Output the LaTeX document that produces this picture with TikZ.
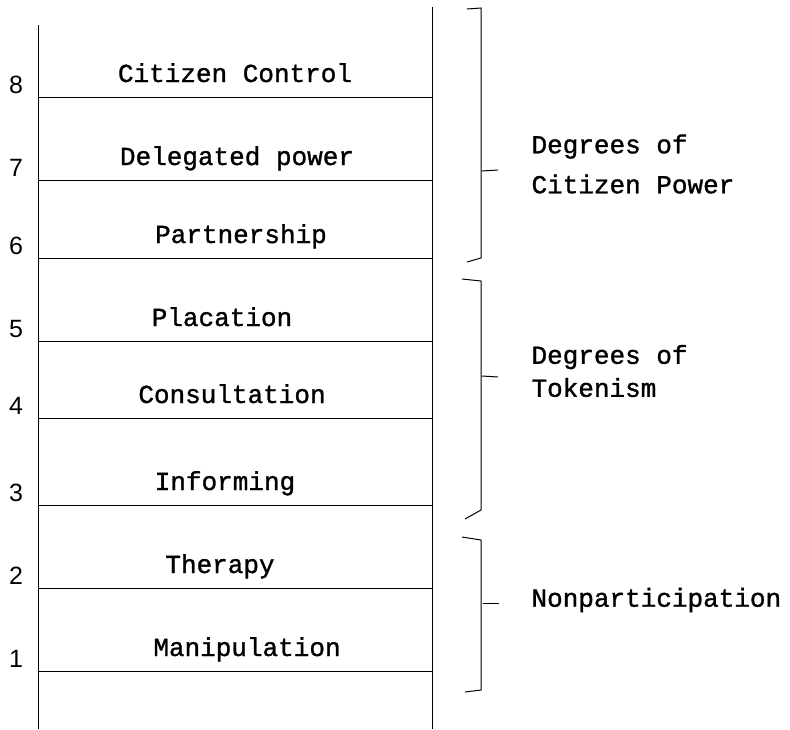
\documentclass[tikz,border=0pt]{standalone}
\usepackage{fontspec}
\setmonofont{Liberation Mono}[FakeBold=1.2]
\setsansfont{Liberation Sans}
\usetikzlibrary{positioning}

\begin{document}
\begin{tikzpicture}[
    x=1pt, y=-1pt,
    rail/.style={line width=1pt},
    rung/.style={line width=1pt},
    brack/.style={line width=1pt},
    rungnum/.style={font=\sffamily\fontsize{25}{25}\selectfont, anchor=center},
    rungtxt/.style={font=\ttfamily\fontsize{26}{30}\selectfont, anchor=base},
    grptxt/.style={font=\ttfamily\fontsize{26}{40}\selectfont, anchor=west, align=left}
  ]
  \useasboundingbox (0,0) rectangle (790,729);
  % Rails
  \coordinate (ltop) at (38,25);
  \coordinate (lbot) at (38,729);
  \coordinate (rtop) at (432,7);
  \coordinate (rbot) at (432,729);
  \draw[rail] (ltop) -- (lbot);
  \draw[rail] (rtop) -- (rbot);
  % Rungs with numbers and labels
  \foreach \n/\y/\x/\txt in {8/97/235/Citizen Control, 7/180/237/Delegated power,
      6/258/241/Partnership, 5/341/222/Placation, 4/418/232/Consultation,
      3/505/225/Informing, 2/588/220/Therapy, 1/671/247/Manipulation}{
    \coordinate (l\n) at (38,\y);
    \coordinate (r\n) at (432,\y);
    \draw[rung] (l\n) -- (r\n);
    \node[rungnum] (n\n) at (16,\y-12) {\n};
    \node[rungtxt] (t\n) at (\x,\y-15) {\txt};
  }
  % Bracket: citizen power
  \draw[brack] (467,9) -- (481,8) -- (481,258) -- (467,262);
  \coordinate (tk1) at (482,171);
  \draw[brack] (tk1) -- ++(16,-1);
  \node[grptxt] (g1) at (528,164) {Degrees of\\Citizen Power};
  % Bracket: tokenism
  \draw[brack] (462,279) -- (481,281) -- (481,510) -- (465,519);
  \coordinate (tk2) at (482,376);
  \draw[brack] (tk2) -- ++(16,1);
  \node[grptxt, font=\ttfamily\fontsize{26}{33}\selectfont] (g2) at (528,371) {Degrees of\\Tokenism};
  % Bracket: nonparticipation
  \draw[brack] (462,537) -- (481,540) -- (481,690) -- (465,692);
  \coordinate (tk3) at (483,603);
  \draw[brack] (tk3) -- ++(16,0);
  \node[grptxt] (g3) at (528,600) {Nonparticipation};
\end{tikzpicture}
\end{document}
